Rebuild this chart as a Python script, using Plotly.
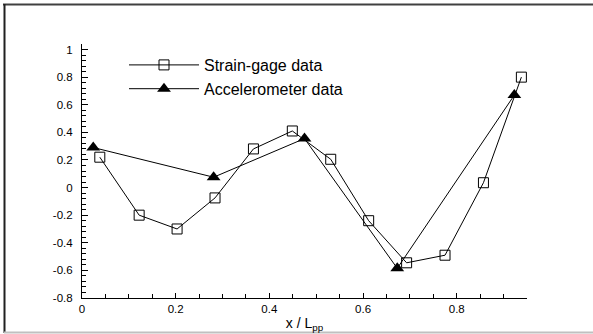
import plotly.graph_objects as go

# Data
strain_x = [0.038, 0.122, 0.203, 0.284, 0.366, 0.449, 0.531, 0.612, 0.693, 0.775, 0.857, 0.938]
strain_y = [0.22, -0.20, -0.30, -0.075, 0.28, 0.41, 0.205, -0.24, -0.545, -0.49, 0.035, 0.80]
accel_x = [0.024, 0.281, 0.475, 0.673, 0.923]
accel_y = [0.29, 0.075, 0.355, -0.585, 0.67]

x_ticks = [0, 0.2, 0.4, 0.6, 0.8]
y_ticks = [-0.8, -0.6, -0.4, -0.2, 0, 0.2, 0.4, 0.6, 0.8, 1]

W, H = 593, 334
L, R, T, B = 82, 66, 44, 36
pw, ph = W - L - R, H - T - B

def px(xp):
    return (xp - L) / pw

def py(yp):
    return (H - B - yp) / ph

fig = go.Figure()
fig.add_trace(go.Scatter(
    x=strain_x, y=strain_y, name="Strain-gage data", mode="lines+markers",
    line=dict(color="black", width=1),
    marker=dict(symbol="square-open", size=10, color="black", line=dict(width=1, color="black")),
))
fig.add_trace(go.Scatter(
    x=accel_x, y=accel_y, name="Accelerometer data", mode="lines+markers",
    line=dict(color="black", width=1),
    marker=dict(symbol="triangle-up", size=12, color="black"),
))

font = "Liberation Sans, Arial, sans-serif"
fig.update_layout(
    width=W, height=H,
    margin=dict(l=L, r=R, t=T, b=B, pad=0, autoexpand=False),
    paper_bgcolor="white", plot_bgcolor="white",
    font=dict(family=font, color="black", size=11),
    showlegend=True,
    legend=dict(
        x=px(124), y=py(48), xanchor="left", yanchor="top",
        bgcolor="rgba(0,0,0,0)", borderwidth=0,
        font=dict(size=16, family=font, color="black"),
        itemwidth=70, tracegroupgap=0,
    ),
    xaxis=dict(
        range=[0, 0.95], showgrid=False, zeroline=False, automargin=False,
        showline=True, linecolor="black", linewidth=1,
        ticks="inside", ticklen=5, tickcolor="black", tickwidth=1,
        tickvals=x_ticks, ticktext=[f"{v:g}" for v in x_ticks],
        tickfont=dict(size=11.5),
        minor=dict(dtick=0.05, tick0=0, ticks="inside", ticklen=4, tickcolor="black", tickwidth=1),
        title=dict(text="x / L<sub>pp</sub>", font=dict(size=14), standoff=4),
    ),
    yaxis=dict(
        range=[-0.8, 1.04], showgrid=False, zeroline=False, automargin=False,
        showline=True, linecolor="black", linewidth=1,
        ticks="inside", ticklen=6, tickcolor="black", tickwidth=1,
        tickvals=y_ticks, ticktext=[f"{v:g}" for v in y_ticks],
        tickfont=dict(size=11.5),
        minor=dict(dtick=0.04, tick0=0, ticks="inside", ticklen=4, tickcolor="black", tickwidth=1),
        ticklabelstandoff=6,
    ),
    shapes=[
        dict(type="line", xref="paper", yref="paper", x0=px(3), x1=px(593), y0=py(4.5), y1=py(4.5),
             line=dict(color="#404040", width=2)),
        dict(type="line", xref="paper", yref="paper", x0=px(4.5), x1=px(4.5), y0=py(4), y1=py(333),
             line=dict(color="#202020", width=2)),
        dict(type="line", xref="paper", yref="paper", x0=px(4), x1=px(593), y0=py(332.5), y1=py(332.5),
             line=dict(color="#c0c0c0", width=2)),
    ],
)

fig.write_html(
    "out.html",
    config={"displayModeBar": False},
    post_script=(
        "document.body.style.margin='0';document.body.style.overflow='hidden';"
        "document.documentElement.style.overflow='hidden';"
    ),
)
